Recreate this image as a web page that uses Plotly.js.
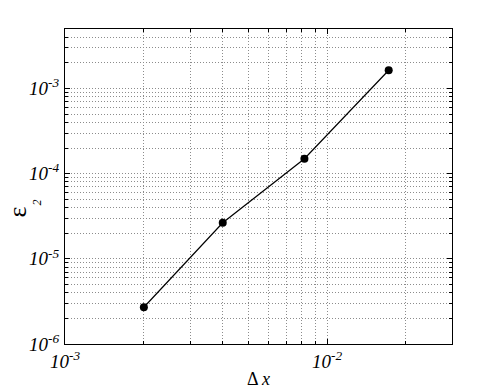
<!DOCTYPE html>
<html>
<head>
<meta charset="utf-8">
<script src="https://cdn.plot.ly/plotly-3.0.1.min.js"></script>
<style>
  html, body { margin: 0; padding: 0; background: #fff; }
  #chart { width: 499px; height: 389px; }
</style>
</head>
<body>
<div id="chart"></div>
<script>
// grid spacing vs error, log-log
const dx = [0.002, 0.004, 0.0082, 0.0172];
const err = [2.7e-6, 2.65e-5, 1.5e-4, 1.64e-3];

const xMajor = [1e-3, 1e-2];
const xMajorText = ['10<sup>-3</sup>', '10<sup>-2</sup>'];
const yMajor = [1e-6, 1e-5, 1e-4, 1e-3];
const yMajorText = ['10<sup>-6</sup>', '10<sup>-5</sup>', '10<sup>-4</sup>', '10<sup>-3</sup>'];
const mantissas = [2, 3, 4, 5, 6, 7, 8, 9];

// minor tick positions inside each decade
function minorTicks(decades) {
  const out = [];
  decades.forEach(d => mantissas.forEach(m => out.push(m * d)));
  return out;
}

const serif = 'Liberation Serif, Times New Roman, serif';
const gridColor = '#8c8c8c';
const gridDash = '1px,2px';
const tickFont = { family: serif, size: 19, color: '#000', style: 'italic' };

function axisBase() {
  return {
    type: 'log',
    tickmode: 'array',
    ticks: 'inside',
    ticklen: 5,
    tickcolor: '#000',
    mirror: 'ticks',
    showline: true,
    linecolor: '#000',
    linewidth: 1,
    showgrid: true,
    gridcolor: gridColor,
    griddash: gridDash,
    gridwidth: 1,
    zeroline: false,
    tickfont: tickFont
  };
}

function minorAxis(decades) {
  return {
    tickmode: 'array',
    tickvals: minorTicks(decades),
    ticks: 'inside', ticklen: 3, tickcolor: '#000',
    showgrid: true, gridcolor: gridColor, griddash: gridDash, gridwidth: 1
  };
}

const xaxis = Object.assign(axisBase(), {
  range: [-3, Math.log10(0.03)],
  tickvals: xMajor,
  ticktext: xMajorText,
  minor: minorAxis([1e-3, 1e-2]),
  title: {
    text: 'Δ <i>x</i>',
    font: { family: serif, size: 18, color: '#000' },
    standoff: 4
  }
});

const yaxis = Object.assign(axisBase(), {
  range: [-6, Math.log10(0.005)],
  tickvals: yMajor,
  ticktext: yMajorText,
  ticklabelstandoff: 1,
  minor: minorAxis([1e-6, 1e-5, 1e-4, 1e-3])
});

const trace = {
  x: dx, y: err, type: 'scatter', mode: 'lines+markers',
  line: { color: '#000', width: 1.2 },
  marker: { color: '#000', size: 8 },
  hoverinfo: 'skip'
};

const layout = {
  width: 499, height: 389,
  paper_bgcolor: '#fff', plot_bgcolor: '#fff',
  margin: { l: 65, r: 47, t: 29, b: 45 },
  showlegend: false,
  xaxis: xaxis,
  yaxis: yaxis,
  annotations: [
    { text: 'ε', xref: 'paper', yref: 'paper', x: -0.122, y: 0.42,
      xanchor: 'center', yanchor: 'middle',
      showarrow: false, textangle: -90,
      font: { family: serif, size: 26, color: '#000' } },
    { text: '2', xref: 'paper', yref: 'paper', x: -0.072, y: 0.45,
      xanchor: 'center', yanchor: 'middle',
      showarrow: false, textangle: -90,
      font: { family: serif, size: 12, color: '#000', style: 'italic' } }
  ]
};

Plotly.newPlot('chart', [trace], layout, { displayModeBar: false, staticPlot: true });
</script>
</body>
</html>
